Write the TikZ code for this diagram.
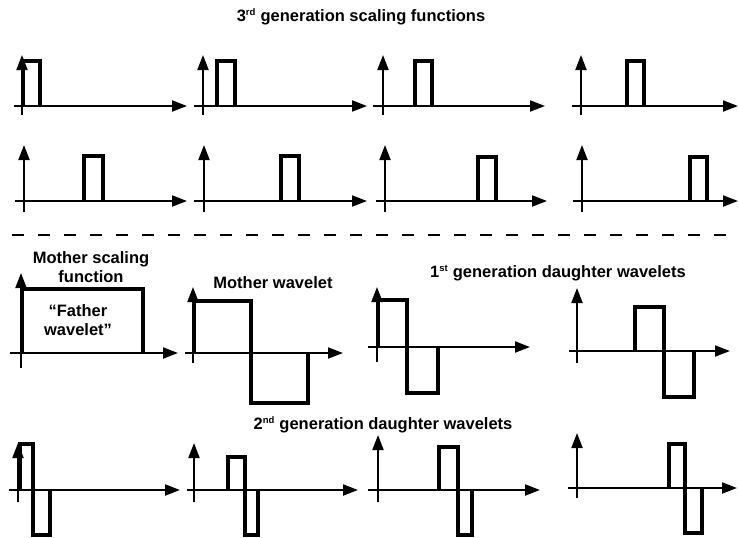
\documentclass[tikz,border=0pt]{standalone}
\usepackage{fontspec}
\setmainfont{Liberation Sans}
\usetikzlibrary{arrows.meta}
\newcommand\mysup[1]{\textsuperscript{\fontsize{9.5}{9.5}\selectfont #1}}
\begin{document}
\begin{tikzpicture}[x=1pt,y=-1pt,
  axis/.style={line width=2pt,-{Triangle[length=15pt,width=11pt]}},
  wave/.style={line width=4.5pt,line join=miter,line cap=butt},
  lbl/.style={inner sep=0pt,align=center,font=\fontsize{16.5}{18.5}\selectfont\bfseries},
  sep/.style={line width=2.5pt,dash pattern=on 12pt off 14pt}]
\useasboundingbox (0,0) rectangle (739,538);
% Title
\node[lbl] (t3) at (361,17) {3\mysup{rd} generation scaling functions};
% Row 1
\draw[axis] (22,115) -- (22,55);   \draw[axis] (14,106) -- (187,106);
\draw[wave] (23,106) -- (23,61) -- (40,61) -- (40,106);
\draw[axis] (203,115) -- (203,55); \draw[axis] (194,106) -- (367,106);
\draw[wave] (217,106) -- (217,61) -- (235,61) -- (235,106);
\draw[axis] (383,115) -- (383,55); \draw[axis] (373,106) -- (545,106);
\draw[wave] (415,106) -- (415,61) -- (432,61) -- (432,106);
\draw[axis] (581,115) -- (581,55); \draw[axis] (572,106) -- (738,106);
\draw[wave] (627,106) -- (627,61) -- (644,61) -- (644,106);
% Row 2
\draw[axis] (24,212) -- (24,145);  \draw[axis] (15,201) -- (187,201);
\draw[wave] (84,201) -- (84,156) -- (103,156) -- (103,201);
\draw[axis] (204,212) -- (204,145); \draw[axis] (194,201) -- (367,201);
\draw[wave] (281,201) -- (281,156) -- (299,156) -- (299,201);
\draw[axis] (385,212) -- (385,145); \draw[axis] (376,201) -- (547,201);
\draw[wave] (478,201) -- (478,157) -- (496,157) -- (496,201);
\draw[axis] (582,212) -- (582,145); \draw[axis] (573,201) -- (738,201);
\draw[wave] (690,201) -- (690,157) -- (707,157) -- (707,201);
% Separator
\draw[sep] (12,235) -- (739,235);
% Mother scaling function
\node[lbl] (msf) at (91,267) {Mother scaling\\function};
\draw[axis] (21,368) -- (21,273); \draw[axis] (10,353) -- (178,353);
\draw[wave] (22,353) -- (22,289) -- (143,289) -- (143,353);
\node[lbl] (fw) at (78,320) {“Father\\wavelet”};
% Mother wavelet
\node[lbl] (mw) at (273,283) {Mother wavelet};
\draw[axis] (193,363) -- (193,287); \draw[axis] (185,353) -- (343,353);
\draw[wave] (194,353) -- (194,301) -- (251,301) -- (251,403) -- (308,403) -- (308,353);
% 1st generation daughters
\node[lbl] (d1) at (558,273) {1\mysup{st} generation daughter wavelets};
\draw[axis] (377,362) -- (377,287); \draw[axis] (368,347) -- (530,347);
\draw[wave] (378,347) -- (378,300) -- (407,300) -- (407,393) -- (438,393) -- (438,347);
\draw[axis] (577,363) -- (577,288); \draw[axis] (569,351) -- (730,351);
\draw[wave] (635,351) -- (635,307) -- (664,307) -- (664,397) -- (694,397) -- (694,351);
% 2nd generation daughters
\node[lbl] (d2) at (383,425) {2\mysup{nd} generation daughter wavelets};
\draw[axis] (18,502) -- (18,443); \draw[axis] (9,490) -- (180,490);
\draw[wave] (20,490) -- (20,444) -- (33,444) -- (33,535) -- (50,535) -- (50,490);
\draw[axis] (194,502) -- (194,443); \draw[axis] (187,490) -- (358,490);
\draw[wave] (228,490) -- (228,457) -- (245,457) -- (245,535) -- (258,535) -- (258,490);
\draw[axis] (378,502) -- (378,435); \draw[axis] (368,490) -- (540,490);
\draw[wave] (439,490) -- (439,447) -- (458,447) -- (458,535) -- (472,535) -- (472,490);
\draw[axis] (577,498) -- (577,433); \draw[axis] (568,488) -- (737,488);
\draw[wave] (669,488) -- (669,444) -- (685,444) -- (685,533) -- (702,533) -- (702,488);
\end{tikzpicture}
\end{document}
